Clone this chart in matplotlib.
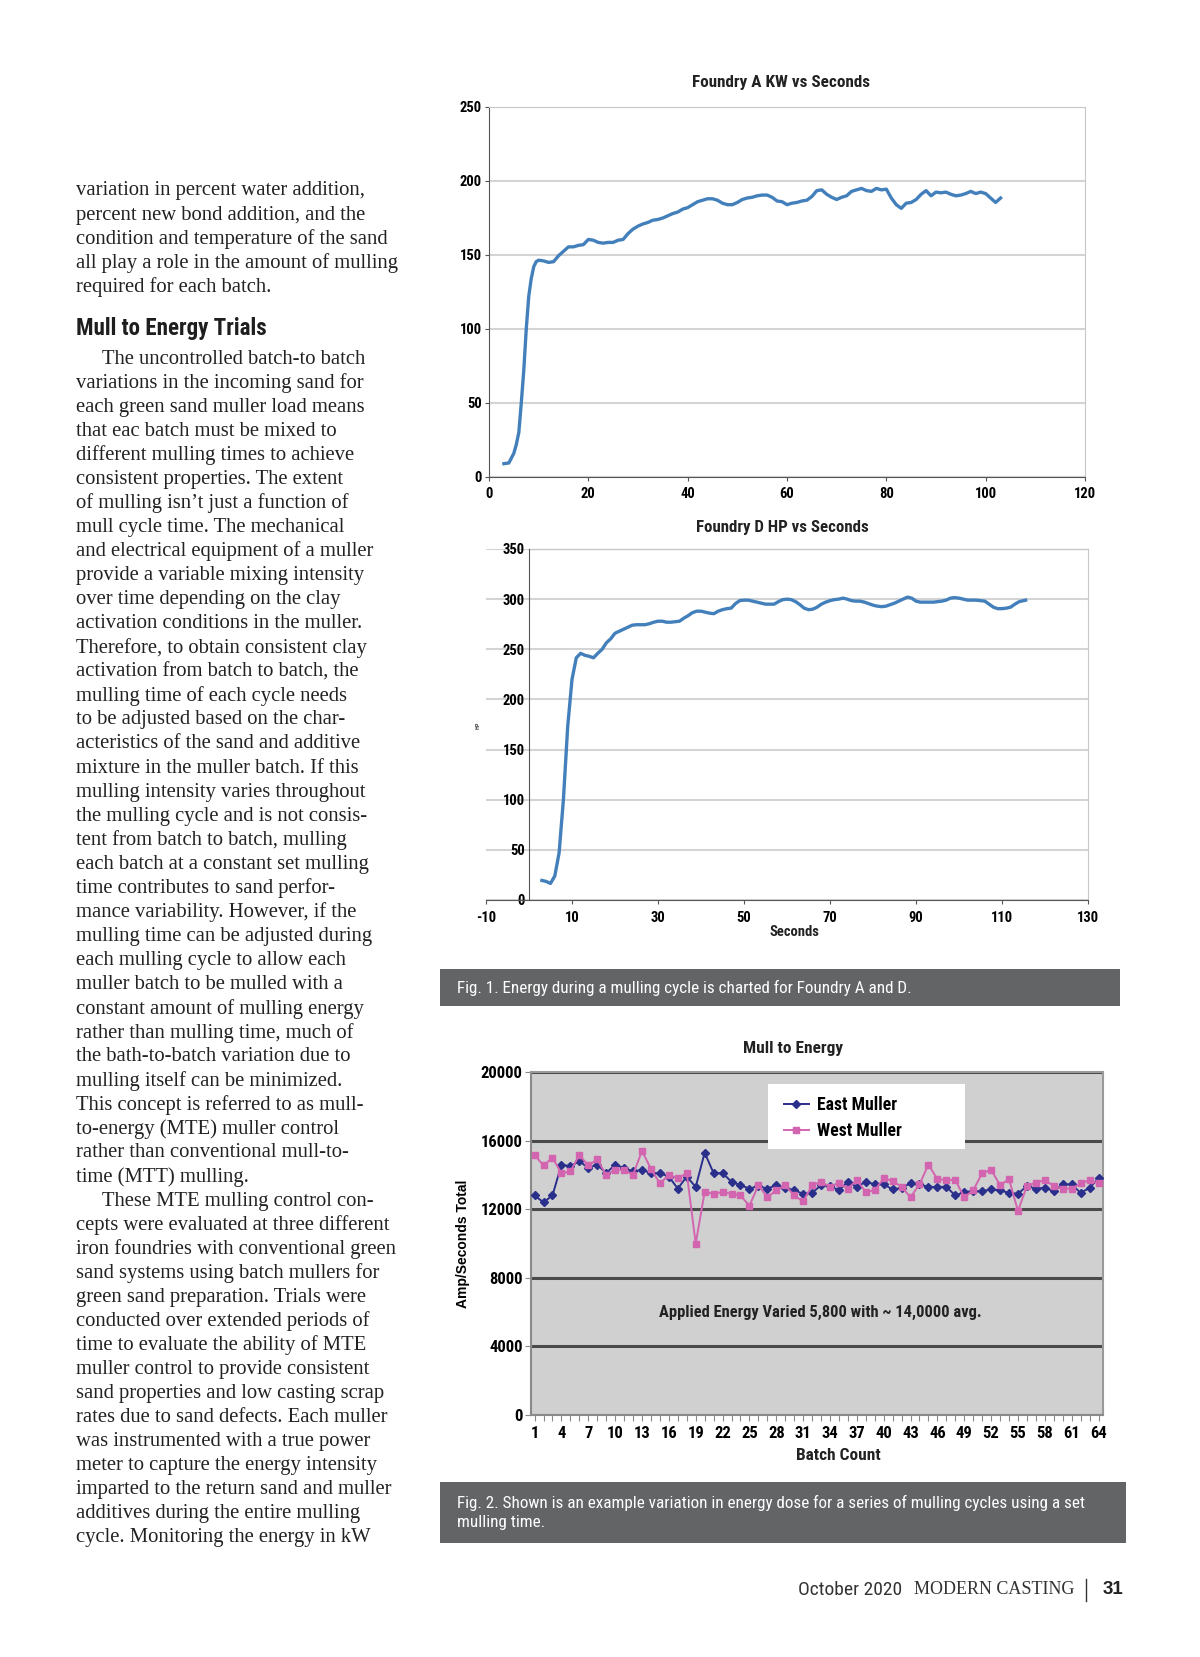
import matplotlib
matplotlib.use("Agg")
import matplotlib.pyplot as plt
from matplotlib import font_manager as fm
from matplotlib.patches import Rectangle
from matplotlib.lines import Line2D

plt.rcParams['axes.unicode_minus'] = False

# fuentes disponibles: se busca una sans estrecha
avail = {f.name for f in fm.fontManager.ttflist}


def pick_narrow():
    for name in ['Liberation Sans Narrow', 'Roboto Condensed', 'Open Sans Condensed',
                 'Noto Sans Condensed', 'DejaVu Sans Condensed']:
        if name in avail:
            return name, 'normal', True
    for f in fm.fontManager.ttflist:
        if f.name in ('DejaVu Sans', 'Noto Sans', 'Open Sans', 'Roboto') and \
                str(f.stretch) in ('condensed', 'semi-condensed', 'extra-condensed'):
            return f.name, 'condensed', True
    return 'Liberation Sans', 'normal', False


NFAM, NSTR, IS_NARROW = pick_narrow()
K = 1.0 if IS_NARROW else 0.9   # ajuste de tamano si no hay fuente estrecha
SERIF = 'Liberation Serif'
SANS = 'Liberation Sans'

W, H = 1200, 1657

# ---- datos: Foundry A (KW vs segundos)
a_sec = [3, 4, 5, 5.5, 6, 6.5, 7, 7.5, 8, 8.5, 9, 9.5, 10, 11, 12, 13, 14, 15, 16, 17, 18, 19,
         20, 21, 22, 23, 24, 25, 26, 27, 28, 29, 30, 31, 32, 33, 34, 35, 36, 37, 38, 39, 40,
         41, 42, 43, 44, 45, 46, 47, 48, 49, 50, 51, 52, 53, 54, 55, 56, 57, 58, 59, 60, 61,
         62, 63, 64, 65, 66, 67, 68, 69, 70, 71, 72, 73, 74, 75, 76, 77, 78, 79, 80, 81, 82,
         83, 84, 85, 86, 87, 88, 89, 90, 91, 92, 93, 94, 95, 96, 97, 98, 99, 100, 101, 102,
         102.5, 103]
a_kw = [9, 9.5, 16, 22, 30, 50, 72, 100, 122, 134, 142, 145.5, 146.5, 146, 145, 145.5, 149.5,
        152.5, 155.5, 155.5, 156.5, 157, 160.5, 160, 158.5, 158, 158.5, 158.5, 160, 160.5,
        164.5, 167.5, 169.5, 171, 172, 173.5, 174, 175, 176.5, 178, 179, 181, 182, 184, 186,
        187, 188, 188, 187, 185, 184, 184, 185.5, 187.5, 188.5, 189, 190, 190.5, 190.5, 189,
        186.5, 186, 184, 185, 185.5, 186.5, 187, 189.5, 193.5, 194, 191, 189, 187.5, 189, 190,
        193, 194, 195, 193.5, 193, 195, 194, 194.5, 188.5, 184, 181.5, 185, 185.5, 187.5, 191,
        193.5, 190, 192.5, 192, 192.5, 191, 190, 190.5, 191.5, 193, 191.5, 192.5, 191.5,
        188.5, 185.5, 187, 188.5]

# ---- datos: Foundry D (HP vs segundos)
d_sec = [3, 4, 5, 6, 7, 8, 9, 10, 11, 12, 13, 14, 15, 16, 17, 18, 19, 20, 21, 22, 23, 24, 25,
         26, 27, 28, 29, 30, 31, 32, 33, 34, 35, 36, 37, 38, 39, 40, 41, 42, 43, 44, 45, 46,
         47, 48, 49, 50, 51, 52, 53, 54, 55, 56, 57, 58, 59, 60, 61, 62, 63, 64, 65, 66, 67,
         68, 69, 70, 71, 72, 73, 74, 75, 76, 77, 78, 79, 80, 81, 82, 83, 84, 85, 86, 87, 88,
         89, 90, 91, 92, 93, 94, 95, 96, 97, 98, 99, 100, 101, 102, 103, 104, 105, 106, 107,
         108, 109, 110, 111, 112, 113, 114, 115, 115.5]
d_hp = [19.5, 18.5, 16.5, 24, 47, 100, 173, 220, 241.5, 246, 244, 243, 241.5, 246, 250, 256.5,
        260.5, 266, 268, 270, 272, 274, 274.5, 274.5, 274.5, 275.5, 277, 278, 278, 277, 277,
        277.5, 278, 281, 283.5, 286.5, 288, 288, 287, 286, 285.5, 288, 289.5, 290.5, 291,
        295.5, 298.5, 299, 299, 298, 297, 296, 295, 295, 295, 297.5, 299.5, 300, 299.5, 297.5,
        294.5, 291, 289.5, 290, 292, 295, 297, 298.5, 299.5, 300, 301, 300, 298.5, 298, 298,
        297, 295.5, 294, 293, 292.5, 293, 294.5, 296, 298, 300, 302, 301, 298, 297, 297, 297,
        297, 297.5, 298, 299, 301, 301.5, 301, 300, 299, 299, 299, 298.5, 298, 295, 292,
        290.5, 290.5, 291, 292, 295, 297.5, 298.5, 299]

# ---- datos: Mull to Energy
batch = list(range(1, 65))
east = [12800, 12400, 12800, 14600, 14500, 14800, 14400, 14600, 14100, 14600, 14400, 14200,
        14300, 14100, 14100, 13900, 13200, 13900, 13300, 15300, 14100, 14100, 13600, 13400,
        13200, 13350, 13200, 13400, 13250, 13100, 12900, 12950, 13400, 13350, 13100, 13600,
        13300, 13600, 13450, 13450, 13150, 13250, 13500, 13450, 13300, 13300, 13300, 12800,
        13000, 13050, 13050, 13150, 13100, 12950, 12900, 13350, 13200, 13250, 13050, 13450,
        13450, 12950, 13250, 13800]
west = [15150, 14550, 15000, 14100, 14200, 15150, 14550, 14900, 14000, 14300, 14300, 14000,
        15400, 14350, 13500, 14000, 13800, 14100, 10000, 13000, 12900, 13000, 12900, 12800,
        12200, 13400, 12700, 13100, 13400, 12800, 12450, 13400, 13600, 13300, 13550, 13200,
        13700, 13000, 13100, 13800, 13650, 13300, 12700, 13450, 14600, 13750, 13700, 13700,
        12700, 13100, 14100, 14300, 13400, 13750, 11900, 13350, 13550, 13700, 13350, 13200,
        13200, 13500, 13700, 13500]

blue_line = '#4380bb'
east_col = '#2b2f8c'
west_col = '#d364b0'

body_1 = [
    "variation in percent water addition,",
    "percent new bond addition, and the",
    "condition and temperature of the sand",
    "all play a role in the amount of mulling",
    "required for each batch.",
]
body_2 = [
    "The uncontrolled batch-to batch",
    "variations in the incoming sand for",
    "each green sand muller load means",
    "that eac batch must be mixed to",
    "different mulling times to achieve",
    "consistent properties. The extent",
    "of mulling isn\u2019t just a function of",
    "mull cycle time. The mechanical",
    "and electrical equipment of a muller",
    "provide a variable mixing intensity",
    "over time depending on the clay",
    "activation conditions in the muller.",
    "Therefore, to obtain consistent clay",
    "activation from batch to batch, the",
    "mulling time of each cycle needs",
    "to be adjusted based on the char-",
    "acteristics of the sand and additive",
    "mixture in the muller batch. If this",
    "mulling intensity varies throughout",
    "the mulling cycle and is not consis-",
    "tent from batch to batch, mulling",
    "each batch at a constant set mulling",
    "time contributes to sand perfor-",
    "mance variability. However, if the",
    "mulling time can be adjusted during",
    "each mulling cycle to allow each",
    "muller batch to be mulled with a",
    "constant amount of mulling energy",
    "rather than mulling time, much of",
    "the bath-to-batch variation due to",
    "mulling itself can be minimized.",
    "This concept is referred to as mull-",
    "to-energy (MTE) muller control",
    "rather than conventional mull-to-",
    "time (MTT) mulling.",
    "These MTE mulling control con-",
    "cepts were evaluated at three different",
    "iron foundries with conventional green",
    "sand systems using batch mullers for",
    "green sand preparation. Trials were",
    "conducted over extended periods of",
    "time to evaluate the ability of MTE",
    "muller control to provide consistent",
    "sand properties and low casting scrap",
    "rates due to sand defects. Each muller",
    "was instrumented with a true power",
    "meter to capture the energy intensity",
    "imparted to the return sand and muller",
    "additives during the entire mulling",
    "cycle. Monitoring the energy in kW",
]
indent_lines = [0, 35]

NK = dict(family=NFAM, fontstretch=NSTR)


def px_axes(fig, left, top, right, bottom):
    return fig.add_axes([left / W, 1 - bottom / H, (right - left) / W, (bottom - top) / H])


def ftext(fig, x, y, s, **kw):
    return fig.text(x / W, 1 - y / H, s, **kw)


def narrow_ticks(ax, size):
    for lab in ax.get_xticklabels() + ax.get_yticklabels():
        lab.set_family(NFAM)
        lab.set_stretch(NSTR)
        lab.set_fontweight('bold')
        lab.set_fontsize(size * K)


fig = plt.figure(figsize=(12, 16.57), dpi=100)
fig.patch.set_facecolor('white')

# ---------------- columna de texto
for i, line in enumerate(body_1):
    ftext(fig, 76, 191 + i * 24.06, line, family=SERIF, fontsize=14.9, color='#222222', va='center')
ftext(fig, 76, 328, "Mull to Energy Trials", fontsize=16.6 * K, fontweight='bold',
      color='#1e1e1e', va='center', **NK)
for i, line in enumerate(body_2):
    x0 = 102 if i in indent_lines else 76
    ftext(fig, x0, 359 + i * 24.06, line, family=SERIF, fontsize=14.9, color='#222222', va='center')

# ---------------- Foundry A
ax1 = px_axes(fig, 489, 107, 1085, 477)
ax1.plot(a_sec, a_kw, color=blue_line, lw=2.4)
ax1.set_xlim(0, 120)
ax1.set_ylim(0, 250)
ax1.set_xticks(range(0, 121, 20))
ax1.set_yticks(range(0, 251, 50))
ax1.yaxis.grid(True, color='#d4d4d4', lw=1.5)
ax1.set_axisbelow(True)
for s in ['top', 'right']:
    ax1.spines[s].set_color('#c8c8c8')
for s in ['left', 'bottom']:
    ax1.spines[s].set_color('#555555')
ax1.tick_params(axis='y', length=3, width=0.8, color='#555555', pad=2)
ax1.tick_params(axis='x', length=3, width=0.8, color='#555555', pad=4)
narrow_ticks(ax1, 10.5)
ftext(fig, 781, 83, "Foundry A KW vs Seconds", fontweight='bold', fontsize=12.3 * K,
      ha='center', va='center', color='#222222', **NK)

# ---------------- Foundry D
ax2 = px_axes(fig, 486, 549, 1088, 900)
ax2.plot(d_sec, d_hp, color=blue_line, lw=2.4)
ax2.set_xlim(-10, 130)
ax2.set_ylim(0, 350)
ax2.set_xticks(range(-10, 131, 20))
ax2.set_yticks(range(0, 351, 50))
ax2.yaxis.grid(True, color='#d4d4d4', lw=1.5)
ax2.set_axisbelow(True)
ax2.spines['left'].set_position(('data', 0))
ax2.spines['left'].set_color('#555555')
ax2.spines['bottom'].set_color('#555555')
ax2.spines['right'].set_color('#c8c8c8')
ax2.spines['top'].set_visible(False)
ax2.plot([0, 130], [350, 350], color='#c8c8c8', lw=1.0, clip_on=False)
ax2.tick_params(axis='y', length=0, pad=3)
ax2.tick_params(axis='x', length=3, width=0.8, color='#555555', pad=5)
narrow_ticks(ax2, 10.5)
ftext(fig, 794, 932, "Seconds", fontweight='bold', fontsize=10.5 * K,
      ha='center', va='center', color='#222222', **NK)
ftext(fig, 478, 725, "HP", fontweight='bold', fontsize=4.5, rotation=90,
      ha='center', va='center', color='#444444', **NK)
ftext(fig, 782, 527, "Foundry D HP vs Seconds", fontweight='bold', fontsize=12.2 * K,
      ha='center', va='center', color='#222222', **NK)

# ---------------- leyenda figura 1
fig.add_artist(Rectangle((440 / W, 1 - 1006 / H), 680 / W, 37 / H, transform=fig.transFigure,
                         facecolor='#636466', edgecolor='none'))
ftext(fig, 457, 988, "Fig. 1. Energy during a mulling cycle is charted for Foundry A and D.",
      fontsize=12.3 * K, color='white', va='center', **NK)

# ---------------- Mull to Energy
ax3 = px_axes(fig, 531, 1072, 1103, 1415)
ax3.set_facecolor('#d0d0d0')
ax3.plot(batch, east, color=east_col, lw=1.4, marker='D', ms=4.2, label='East Muller', zorder=3)
ax3.plot(batch, west, color=west_col, lw=1.4, marker='s', ms=5, label='West Muller', zorder=3)
ax3.set_xlim(0.6, 64.5)
ax3.set_ylim(0, 20000)
ax3.set_yticks(range(0, 20001, 4000))
ax3.set_xticks(range(1, 65, 3))
ax3.set_xticks(batch, minor=True)
ax3.yaxis.grid(True, color='#4a4a4a', lw=2.2)
ax3.set_axisbelow(True)
for s in ['top', 'right']:
    ax3.spines[s].set_color('#9a9a9a')
    ax3.spines[s].set_linewidth(1.5)
for s in ['left', 'bottom']:
    ax3.spines[s].set_color('#8a8a8a')
    ax3.spines[s].set_linewidth(1.5)
ax3.tick_params(axis='x', which='both', length=4, width=0.8, color='#8a8a8a', pad=4)
ax3.tick_params(axis='y', length=4, width=0.8, color='#8a8a8a', pad=2)
narrow_ticks(ax3, 12)
ftext(fig, 838, 1455, "Batch Count", fontweight='bold', fontsize=12.4 * K,
      ha='center', va='center', color='#222222', **NK)
ax3.set_ylabel("Amp/Seconds Total", family=SANS, fontweight='bold', fontsize=10, labelpad=8)
ax3.text(0.505, 6000, "Applied Energy Varied 5,800 with ~ 14,0000 avg.",
         transform=ax3.get_yaxis_transform(), fontweight='bold', fontsize=11.9 * K,
         ha='center', va='center', color='#222222', **NK)
# caja blanca de la leyenda
ax3.add_patch(Rectangle((0.414, 0.775), 0.344, 0.191, transform=ax3.transAxes,
                        facecolor='white', edgecolor='none', zorder=4))
leg = ax3.legend(loc='upper left', bbox_to_anchor=(0.43, 0.95), frameon=False,
                 prop={'family': NFAM, 'stretch': NSTR, 'weight': 'bold', 'size': 12.7 * K},
                 handlelength=1.4, labelspacing=0.45, borderaxespad=0, handletextpad=0.45)
leg.set_zorder(5)
ftext(fig, 793, 1049, "Mull to Energy", fontweight='bold', fontsize=12.4 * K,
      ha='center', va='center', color='#222222', **NK)

# ---------------- leyenda figura 2
fig.add_artist(Rectangle((440 / W, 1 - 1543 / H), 686 / W, 61 / H, transform=fig.transFigure,
                         facecolor='#636466', edgecolor='none'))
ftext(fig, 457, 1503, "Fig. 2. Shown is an example variation in energy dose for a series of mulling cycles using a set",
      fontsize=12.3 * K, color='white', va='center', **NK)
ftext(fig, 457, 1522, "mulling time.", fontsize=12.3 * K, color='white', va='center', **NK)

# ---------------- pie de pagina
ftext(fig, 902, 1590, "October 2020", fontsize=14 * K, color='#333333', ha='right', va='center', **NK)
ftext(fig, 1074, 1590, "MODERN CASTING", family=SERIF, fontsize=13, color='#333333', ha='right', va='center')
fig.add_artist(Line2D([1086 / W, 1086 / W], [1 - 1579 / H, 1 - 1601 / H], transform=fig.transFigure,
                      color='#333333', lw=1))
ftext(fig, 1123, 1590, "31", family=SANS, fontsize=13.5, fontweight='bold', color='#222222', ha='right', va='center')

fig.savefig("out.png", dpi=100)
